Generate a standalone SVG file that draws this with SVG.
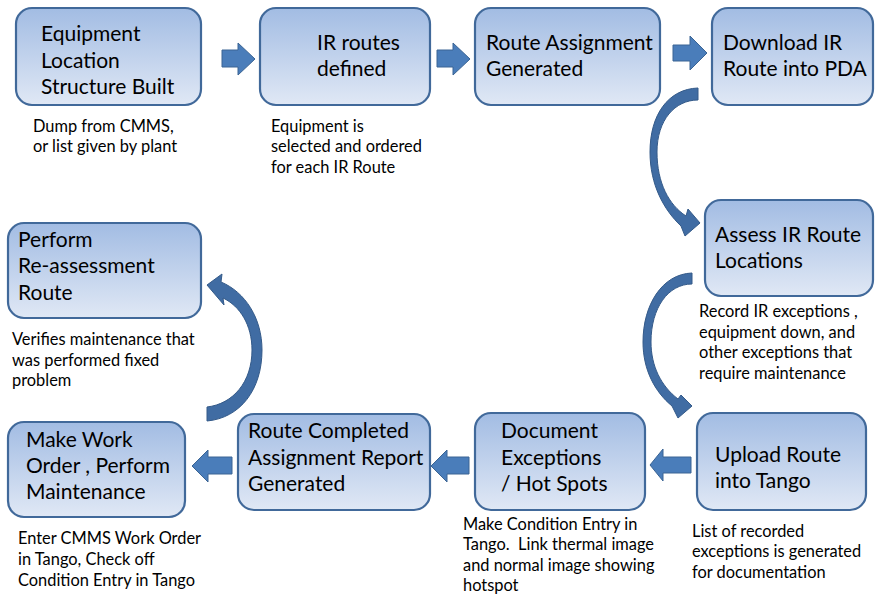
<svg xmlns="http://www.w3.org/2000/svg" width="875" height="595" viewBox="0 0 875 595">
<defs>
<linearGradient id="boxg" x1="0" y1="0" x2="0" y2="1">
<stop offset="0" stop-color="#a2bce3"/>
<stop offset="1" stop-color="#e0e8f5"/>
</linearGradient>
<style>
.box{fill:url(#boxg);stroke:#41699a;stroke-width:2.2}
.t{font-family:Lato,"Liberation Sans",sans-serif;font-size:21px;fill:#000}
.n{font-family:Lato,"Liberation Sans",sans-serif;font-size:16.4px;fill:#000}
.arr{fill:#4a7dba;stroke:#3a6494;stroke-width:1}
.carr{fill:#406ca3;stroke:#345a89;stroke-width:1}
</style>
</defs>
<rect width="875" height="595" fill="#fff"/>
<g id="connectors">
<path class="arr" d="M222,50 H238 V43 L255,59 L238,75 V67 H222 Z"/>
<path class="arr" d="M437,50 H453 V43 L470,59 L453,75 V67 H437 Z"/>
<path class="arr" d="M673,45 H690 V36 L707,53 L690,70 V61 H673 Z"/>
<path class="arr" d="M691,457 H663 V449 L650,465 L663,481 V473 H691 Z"/>
<path class="arr" d="M469,457 H447 V450 L431,466 L447,482 V474 H469 Z"/>
<path class="arr" d="M232,457 H208 V450 L192,466 L208,482 V474 H232 Z"/>
<path class="carr" d="M698,88 C668,89 650,115 650,152 C650,185 664,210 681,226 L685,236 L700,223 L688,209 L686,216 C669,205 657,183 657,152 C657,120 675,100 698,100 Z"/>
<path class="carr" d="M692,273 C662,274 643,305 643,342 C643,370 655,392 672,406 L678,418 L692,406 L681,395 L678,399 C661,386 651,366 651,342 C651,308 668,284 692,284 Z"/>
<path class="carr" d="M207,285 L222,274 L221,282 C245,292 262,318 262,350 C262,390 240,418 207,421 L207,407 C233,404 252,382 252,350 C252,325 240,306 223,298 L224,305 Z"/>
</g>
<g id="n1">
<rect class="box" x="16" y="8" width="185" height="97" rx="16"/>
<text class="t" x="41" y="41">Equipment</text>
<text class="t" x="41" y="68">Location</text>
<text class="t" x="41" y="94">Structure Built</text>
<text class="n" x="33" y="132">Dump from CMMS,</text>
<text class="n" x="33" y="152">or list given by plant</text>
</g>
<g id="n2">
<rect class="box" x="260" y="8" width="170" height="97" rx="16"/>
<text class="t" x="317" y="50">IR routes</text>
<text class="t" x="317" y="76">defined</text>
<text class="n" x="271" y="132">Equipment is</text>
<text class="n" x="271" y="152">selected and ordered</text>
<text class="n" x="271" y="173">for each IR Route</text>
</g>
<g id="n3">
<rect class="box" x="475" y="8" width="185" height="97" rx="16"/>
<text class="t" x="486" y="50">Route Assignment</text>
<text class="t" x="486" y="76">Generated</text>
</g>
<g id="n4">
<rect class="box" x="712" y="8" width="161" height="97" rx="16"/>
<text class="t" x="723" y="50">Download IR</text>
<text class="t" x="723" y="76">Route into PDA</text>
</g>
<g id="n5">
<rect class="box" x="705" y="200" width="168" height="96" rx="16"/>
<text class="t" x="715" y="242">Assess IR Route</text>
<text class="t" x="715" y="268">Locations</text>
<text class="n" x="699" y="317">Record IR exceptions ,</text>
<text class="n" x="699" y="338">equipment down, and</text>
<text class="n" x="699" y="358">other exceptions that</text>
<text class="n" x="699" y="379">require maintenance</text>
</g>
<g id="n6">
<rect class="box" x="697" y="413" width="169" height="97" rx="16"/>
<text class="t" x="715" y="462">Upload Route</text>
<text class="t" x="715" y="488">into Tango</text>
<text class="n" x="692" y="537">List of recorded</text>
<text class="n" x="692" y="557">exceptions is generated</text>
<text class="n" x="692" y="578">for documentation</text>
</g>
<g id="n7">
<rect class="box" x="475" y="413" width="170" height="97" rx="16"/>
<text class="t" x="501" y="438">Document</text>
<text class="t" x="501" y="465">Exceptions</text>
<text class="t" x="501" y="491">/ Hot Spots</text>
<text class="n" x="463" y="530">Make Condition Entry in</text>
<text class="n" x="463" y="550" xml:space="preserve">Tango.  Link thermal image</text>
<text class="n" x="463" y="571">and normal image showing</text>
<text class="n" x="463" y="591">hotspot</text>
</g>
<g id="n8">
<rect class="box" x="238" y="414" width="192" height="96" rx="16"/>
<text class="t" x="248" y="438">Route Completed</text>
<text class="t" x="248" y="465">Assignment Report</text>
<text class="t" x="248" y="491">Generated</text>
</g>
<g id="n9">
<rect class="box" x="8" y="422" width="177" height="95" rx="16"/>
<text class="t" x="26" y="447">Make Work</text>
<text class="t" x="26" y="473">Order , Perform</text>
<text class="t" x="26" y="499">Maintenance</text>
<text class="n" x="18" y="544">Enter CMMS Work Order</text>
<text class="n" x="18" y="565">in Tango, Check off</text>
<text class="n" x="18" y="586">Condition Entry in Tango</text>
</g>
<g id="n10">
<rect class="box" x="8" y="223" width="193" height="95" rx="16"/>
<text class="t" x="18" y="247">Perform</text>
<text class="t" x="18" y="273">Re-assessment</text>
<text class="t" x="18" y="300">Route</text>
<text class="n" x="12" y="345">Verifies maintenance that</text>
<text class="n" x="12" y="366">was performed fixed</text>
<text class="n" x="12" y="386">problem</text>
</g>
</svg>
